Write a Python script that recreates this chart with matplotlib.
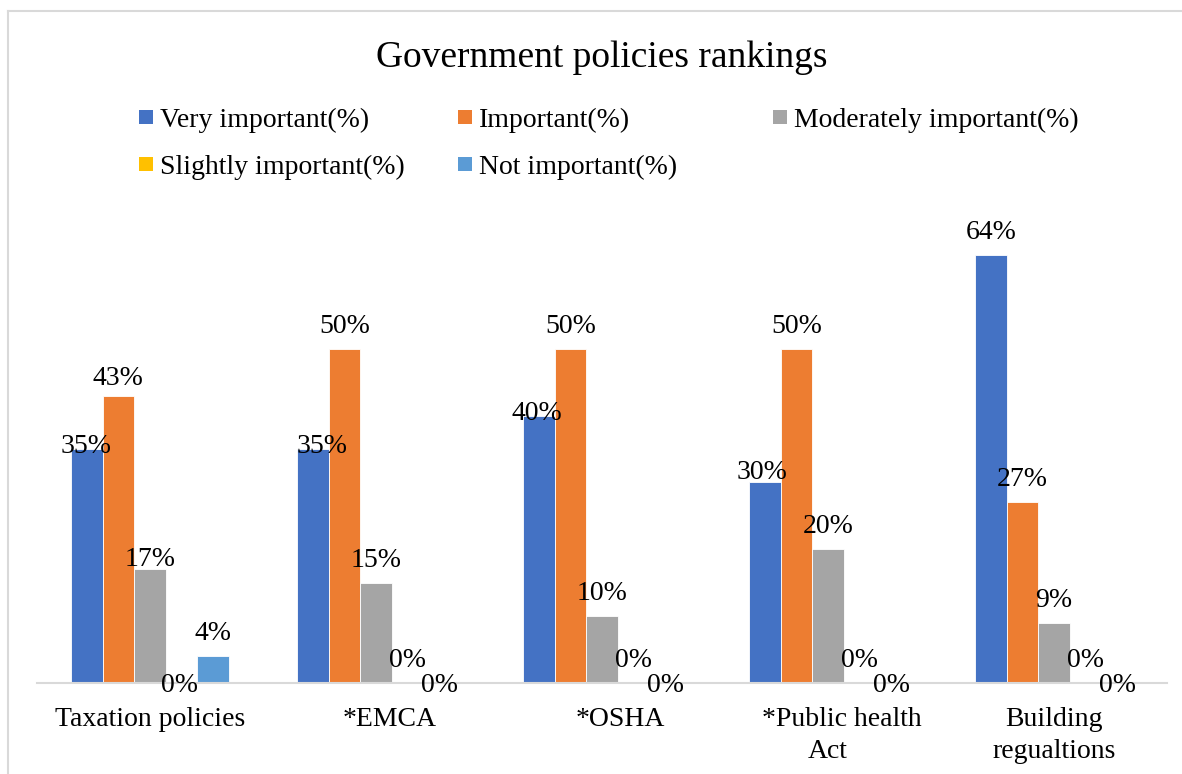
import matplotlib
matplotlib.use("Agg")
import matplotlib.pyplot as plt
import numpy as np
from matplotlib.lines import Line2D
from matplotlib.patches import Rectangle

# ---- data ----
categories = ["Taxation policies", "*EMCA", "*OSHA", "*Public health\nAct", "Building\nregualtions"]
series_names = ["Very important(%)", "Important(%)", "Moderately important(%)",
                "Slightly important(%)", "Not important(%)"]
very_important = [35, 35, 40, 30, 64]
important = [43, 50, 50, 50, 27]
moderately_important = [17, 15, 10, 20, 9]
slightly_important = [0, 0, 0, 0, 0]
not_important = [4, 0, 0, 0, 0]
series_values = [very_important, important, moderately_important,
                 slightly_important, not_important]
colors = ["#4472C4", "#ED7D31", "#A5A5A5", "#FFC000", "#5B9BD5"]

# ---- layout helpers (pixel based) ----
W, H = 1182, 774
plt.rcParams["font.family"] = ["Liberation Serif", "DejaVu Serif"]
FS = 20


def fx(px):
    return px / W


def fy(py):
    return 1 - py / H


fig = plt.figure(figsize=(W / 100, H / 100), dpi=100)
fig.patch.set_facecolor("white")

# chart frame (left and top edges visible)
fig.add_artist(Line2D([fx(8), fx(8)], [fy(11), fy(H + 5)], color="#D9D9D9", lw=1.5))
fig.add_artist(Line2D([fx(8), fx(W + 5)], [fy(11), fy(11)], color="#D9D9D9", lw=1.5))

ax = fig.add_axes([fx(37), 1 - 683 / H, 1130 / W, 468 / H])
ax.set_xlim(-0.5, len(categories) - 0.5)
ax.set_ylim(0, 70)

n = len(series_values)
width = 0.14
x = np.arange(len(categories))

# label offsets in pixels (dx, dy of the text baseline from the bar top)
default_offset = (0, 16)
label_offsets = {
    (0, 0): (-1, -4), (1, 0): (0, 11), (2, 0): (0, 3), (3, 0): (-2, -9),
    (0, 1): (9, -4), (0, 2): (-2, -4), (0, 3): (-3, 3),
    (4, 1): (0, -9), (4, 2): (0, -9), (4, 3): (0, -9), (4, 4): (0, -9),
}

for i, (vals, col) in enumerate(zip(series_values, colors)):
    pos = x + (i - (n - 1) / 2) * width
    bars = ax.bar(pos, vals, width, color=col, edgecolor="white", linewidth=0.6,
                  label=series_names[i], zorder=2)
    for j, (b, v) in enumerate(zip(bars, vals)):
        dx, dy = label_offsets.get((i, j), default_offset)
        ax.annotate(f"{v}%", (b.get_x() + b.get_width() / 2, v),
                    xytext=(dx, dy), textcoords="offset pixels",
                    ha="center", va="baseline", fontsize=FS, color="black",
                    zorder=3, annotation_clip=False)

# axes styling
for s in ["top", "right", "left"]:
    ax.spines[s].set_visible(False)
ax.spines["bottom"].set_color("#D9D9D9")
ax.spines["bottom"].set_linewidth(1.5)
ax.set_yticks([])
ax.set_xticks(x)
ax.set_xticklabels([])
ax.tick_params(axis="x", length=0)

# category labels, one text per line (pixel shifts per line)
line_shift = {(1, 0): 14, (2, 0): 18, (3, 0): 14}
for j, cat in enumerate(categories):
    for k, line in enumerate(cat.split("\n")):
        ax.annotate(line, (x[j], 0), xytext=(line_shift.get((j, k), 0), -43 - 32 * k),
                    textcoords="offset pixels", ha="center", va="baseline",
                    fontsize=FS, color="black", annotation_clip=False)

# title
fig.text(fx(602), fy(67), "Government policies rankings", ha="center", va="baseline",
         fontsize=27, color="black")

# legend, three columns
legend_slots = [(139, 117), (458, 117), (773, 117), (139, 164), (458, 164)]
for (mx, my), name, col in zip(legend_slots, series_names, colors):
    fig.add_artist(Rectangle((fx(mx), fy(my + 7)), 14 / W, 14 / H,
                             transform=fig.transFigure, facecolor=col, edgecolor="none"))
    fig.text(fx(mx + 21), fy(my + 10), name, ha="left", va="baseline",
             fontsize=FS, color="black")

fig.savefig("out.png", dpi=100)
